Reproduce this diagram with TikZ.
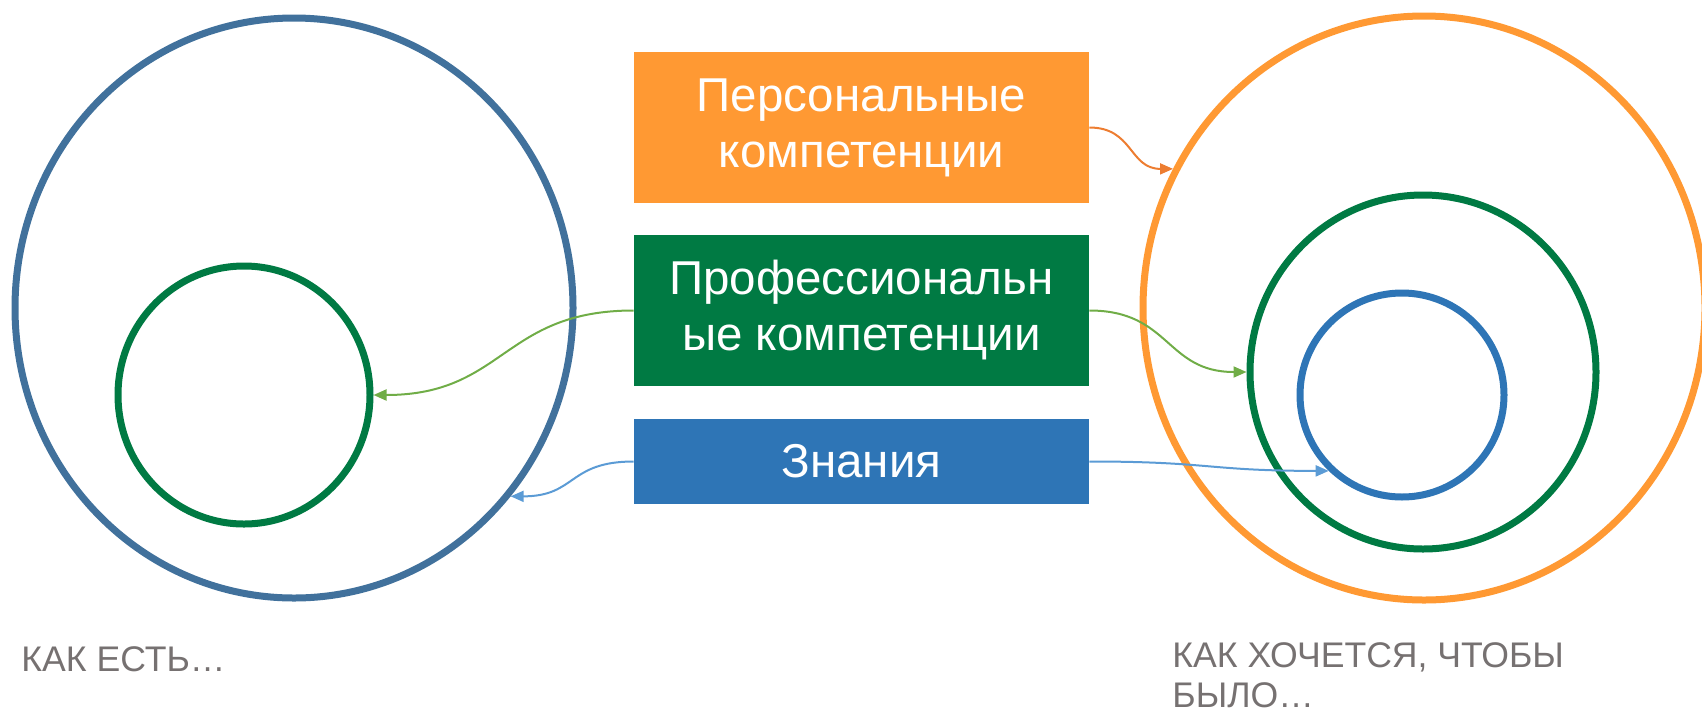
\documentclass[tikz,border=0pt]{standalone}
\usepackage{fontspec}
\setmainfont{Liberation Sans}
\usetikzlibrary{shapes.geometric,arrows.meta}
\definecolor{ringblue}{HTML}{41719C}
\definecolor{pgreen}{HTML}{007A43}
\definecolor{porange}{HTML}{FF9933}
\definecolor{kblue}{HTML}{2E75B6}
\definecolor{aorange}{HTML}{ED7D31}
\definecolor{agreen}{HTML}{70AD47}
\definecolor{ablue}{HTML}{5B9BD5}
\definecolor{lblgray}{HTML}{767171}
\begin{document}
\begin{tikzpicture}[x=0.5pt,y=-0.5pt,
 ring/.style={ellipse,draw,line width=3.5pt,inner sep=0pt},
 box/.style={rectangle,inner sep=0pt,minimum width=227.5pt,text=white,align=center,font=\fontsize{23.75}{28}\selectfont},
 conn/.style={line width=1pt,-{Triangle[length=6.5pt,width=5.5pt]}},
 lbl/.style={text=lblgray,font=\fontsize{17.8}{20}\selectfont,inner sep=0pt,align=left}]
\useasboundingbox (0,0) rectangle (1702,713);
% rings
\node[ring,draw=ringblue,minimum width=279pt,minimum height=290pt] (lb) at (294,308) {};
\node[ring,draw=pgreen,minimum width=126pt,minimum height=129pt] (lg) at (244,395) {};
\node[ring,draw=porange,minimum width=281pt,minimum height=292pt] (orc) at (1424,308) {};
\node[ring,draw=pgreen,minimum width=173pt,minimum height=177pt] (rg) at (1423,372) {};
\node[ring,draw=kblue,minimum width=102pt,minimum height=102pt] (rb) at (1402,395) {};
% boxes
\node[box,fill=porange,minimum height=75.5pt] (po) at (861.5,127.5) {Персональные\\компетенции};
\node[box,fill=pgreen,minimum height=75.5pt] (pp) at (861.5,310.5) {Профессиональн\\ые компетенции};
\node[box,fill=kblue,minimum height=42.5pt] (kz) at (861.5,461.5) {Знания};
% connectors
\draw[conn,aorange] (po.east) .. controls +(44,0) and +(-44,0) .. (orc.151);
\draw[conn,agreen] (pp.east) .. controls +(81,0) and +(-81,0) .. (rg.180);
\draw[conn,agreen] (pp.west) .. controls +(-131,0) and +(131,0) .. (lg.0);
\draw[conn,ablue] (kz.west) .. controls +(-66,0) and +(66,0) .. (lb.-41);
\draw[conn,ablue] (kz.east) .. controls +(121,0) and +(-121,0) .. (rb.-134);
% labels
\node[lbl,anchor=base west] (l1) at (21,671) {КАК ЕСТЬ…};
\node[lbl,anchor=north west] (l2) at (1172,642) {КАК ХОЧЕТСЯ, ЧТОБЫ\\БЫЛО…};
\end{tikzpicture}
\end{document}
